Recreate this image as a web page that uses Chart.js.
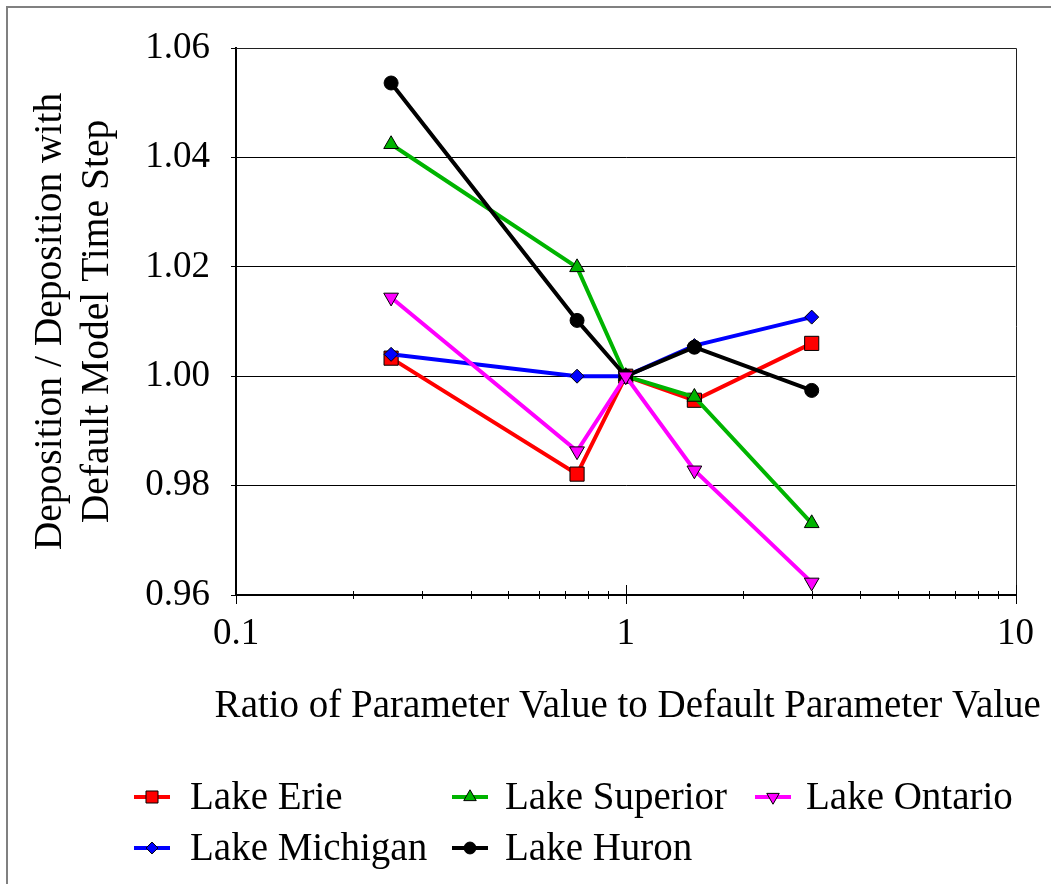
<!DOCTYPE html>
<html>
<head>
<meta charset="utf-8">
<script src="https://cdn.jsdelivr.net/npm/chart.js@4.4.1/dist/chart.umd.min.js"></script>
<style>
  html, body { margin: 0; padding: 0; background: #ffffff; }
  canvas { display: block; }
</style>
</head>
<body>
<canvas id="chart" width="1051" height="884"></canvas>
<script>
// Ratio of parameter value to its default (log x axis)
const ratios = [0.25, 0.75, 1, 1.5, 3];

// Deposition relative to deposition with the default model time step
const lakeErie     = [1.0033, 0.9821, 1.0000, 0.9956, 1.0060];
const lakeSuperior = [1.0424, 1.0199, 1.0000, 0.9962, 0.9731];
const lakeOntario  = [1.0144, 0.9863, 1.0000, 0.9828, 0.9623];
const lakeMichigan = [1.0040, 1.0000, 1.0000, 1.0056, 1.0108];
const lakeHuron    = [1.0536, 1.0102, 1.0000, 1.0053, 0.9974];

const seriesNames = ['Lake Erie', 'Lake Superior', 'Lake Ontario', 'Lake Michigan', 'Lake Huron'];

// Labelled x ticks (decades) and y tick range
const xLabelValues = [0.1, 1, 10];
const xLabelTexts  = ['0.1', '1', '10'];
const yTickMin = 0.96, yTickMax = 1.06, yTickStep = 0.02;

const xAxisTitle = 'Ratio of Parameter Value to Default Parameter Value';
const yAxisTitle = ['Deposition / Deposition with', 'Default Model Time Step'];

const FONT = '"Liberation Serif", "Times New Roman", Times, serif';

const seriesValues = [lakeErie, lakeSuperior, lakeOntario, lakeMichigan, lakeHuron];
// drawOrder: lower numbers are painted on top
const seriesStyles = [
  { color: '#ff0000', pointStyle: 'rect',     radius: 10,  rotation: 0,   drawOrder: 5 },
  { color: '#00b400', pointStyle: 'triangle', radius: 8.5, rotation: 0,   drawOrder: 4 },
  { color: '#ff00ff', pointStyle: 'triangle', radius: 8.5, rotation: 180, drawOrder: 1 },
  { color: '#0000ff', pointStyle: 'rectRot',  radius: 7,   rotation: 0,   drawOrder: 3 },
  { color: '#000000', pointStyle: 'circle',   radius: 7,   rotation: 0,   drawOrder: 2 }
];

const datasets = seriesValues.map((vals, i) => ({
  label: seriesNames[i],
  data: ratios.map((r, j) => ({ x: r, y: vals[j] })),
  order: seriesStyles[i].drawOrder,
  borderColor: seriesStyles[i].color,
  backgroundColor: seriesStyles[i].color,
  borderWidth: 4,
  pointStyle: seriesStyles[i].pointStyle,
  pointRadius: seriesStyles[i].radius,
  pointRotation: seriesStyles[i].rotation,
  pointBackgroundColor: seriesStyles[i].color,
  pointBorderColor: '#000000',
  pointBorderWidth: 1,
  tension: 0
}));

// Outer frame, plot border, crossing tick marks on the log axis, x title and the legend
const framePlugin = {
  id: 'frame',
  beforeDraw(chart) {
    const ctx = chart.ctx;
    ctx.save();
    ctx.fillStyle = '#ffffff';
    ctx.fillRect(0, 0, chart.width, chart.height);
    ctx.strokeStyle = '#808080';
    ctx.lineWidth = 2;
    ctx.beginPath();
    ctx.moveTo(7, chart.height);
    ctx.lineTo(7, 7);
    ctx.lineTo(chart.width, 7);
    ctx.stroke();
    ctx.restore();
  },
  beforeDatasetsDraw(chart) {
    const ctx = chart.ctx;
    const a = chart.chartArea;
    const xs = chart.scales.x;
    ctx.save();
    ctx.strokeStyle = '#202020';
    ctx.lineWidth = 1;
    ctx.beginPath();
    ctx.moveTo(Math.round(a.left), Math.round(a.top) + 0.5);
    ctx.lineTo(Math.round(a.right) + 0.5, Math.round(a.top) + 0.5);
    ctx.lineTo(Math.round(a.right) + 0.5, Math.round(a.bottom) + 9);
    ctx.stroke();
    ctx.strokeStyle = '#000000';
    ctx.beginPath();
    const y0 = Math.round(a.bottom);
    xs.ticks.forEach(t => {
      const px = Math.round(xs.getPixelForValue(t.value)) + 0.5;
      const major = xLabelValues.some(v => Math.abs(v - t.value) < 1e-9);
      const up = major ? 10 : 4;
      const down = major ? 9 : 4;
      ctx.moveTo(px, y0 - up);
      ctx.lineTo(px, y0 + down);
    });
    ctx.stroke();
    ctx.restore();
  },
  afterDraw(chart) {
    const ctx = chart.ctx;
    const a = chart.chartArea;
    ctx.save();

    // x axis title, allowed to run wider than the plot area
    ctx.fillStyle = '#000000';
    ctx.font = '39px ' + FONT;
    ctx.textBaseline = 'middle';
    ctx.textAlign = 'center';
    ctx.fillText(xAxisTitle, (a.left + a.right) / 2 + 2, a.bottom + 112);

    // Legend: line sample with marker, three entries per row
    const markerX = [152, 470, 773];
    const textX = [190, 505, 806];
    const rowY = [797, 848];
    chart.data.datasets.forEach((ds, i) => {
      const col = i % 3, row = Math.floor(i / 3);
      const cx = markerX[col], cy = rowY[row];
      ctx.strokeStyle = ds.borderColor;
      ctx.lineWidth = 4;
      ctx.beginPath();
      ctx.moveTo(cx - 18, cy);
      ctx.lineTo(cx + 18, cy);
      ctx.stroke();
      ctx.fillStyle = ds.pointBackgroundColor;
      ctx.strokeStyle = ds.pointBorderColor;
      ctx.lineWidth = 1;
      Chart.helpers.drawPoint(ctx, {
        pointStyle: ds.pointStyle,
        radius: ds.pointRadius * 0.85,
        rotation: ds.pointRotation,
        borderWidth: 1
      }, cx, cy);
      ctx.fillStyle = '#000000';
      ctx.font = '39px ' + FONT;
      ctx.textBaseline = 'middle';
      ctx.textAlign = 'left';
      ctx.fillText(ds.label, textX[col], cy + 2);
    });
    ctx.restore();
  }
};

new Chart(document.getElementById('chart'), {
  type: 'line',
  data: { datasets },
  plugins: [framePlugin],
  options: {
    responsive: false,
    animation: false,
    devicePixelRatio: 1,
    layout: { padding: { top: 48, right: 31, left: 0, bottom: 149 } },
    plugins: {
      legend: { display: false },
      tooltip: { enabled: false }
    },
    scales: {
      x: {
        type: 'logarithmic',
        min: 0.1,
        max: 10,
        afterBuildTicks(scale) {
          const t = [];
          for (let e = -1; e <= 0; e++) {
            for (let m = 1; m <= 9; m++) t.push({ value: +(m * Math.pow(10, e)).toPrecision(3) });
          }
          t.push({ value: 10 });
          scale.ticks = t;
        },
        afterFit(scale) { scale.height = 140; },
        grid: { display: true, drawOnChartArea: false, drawTicks: false },
        border: { display: true, color: '#000000', width: 2 },
        ticks: {
          autoSkip: false,
          maxRotation: 0,
          padding: 17,
          color: '#000000',
          font: { family: FONT, size: 37 },
          callback(value) {
            const i = xLabelValues.findIndex(v => Math.abs(v - value) < 1e-9);
            return i >= 0 ? xLabelTexts[i] : '';
          }
        },
        title: { display: false }
      },
      y: {
        type: 'linear',
        min: yTickMin,
        max: yTickMax,
        afterFit(scale) { scale.width = 236; },
        grid: { color: '#000000', lineWidth: 1, drawTicks: true, tickLength: 5 },
        border: { display: true, color: '#000000', width: 2 },
        ticks: {
          stepSize: yTickStep,
          padding: 21,
          color: '#000000',
          font: { family: FONT, size: 37 },
          callback(value) { return Number(value).toFixed(2); }
        },
        title: {
          display: true,
          text: yAxisTitle,
          color: '#000000',
          font: { family: FONT, size: 39.5, lineHeight: 1.2 },
          padding: { top: 27, bottom: 0 }
        }
      }
    }
  }
});
</script>
</body>
</html>
